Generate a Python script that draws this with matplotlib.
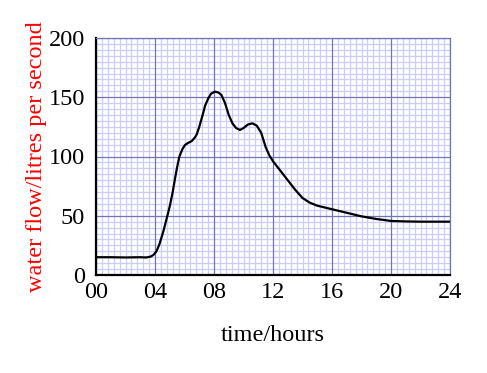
import matplotlib
matplotlib.use("Agg")
import matplotlib.pyplot as plt
from matplotlib.ticker import FixedLocator

hours = [0, 1, 2, 3, 3.4, 3.7, 3.9, 4.1, 4.3, 4.56, 4.8, 5.02, 5.2, 5.36, 5.5, 5.65,
         5.85, 6.03, 6.25, 6.49, 6.7, 6.83, 7.0, 7.23, 7.4, 7.61, 7.8, 8.05, 8.3, 8.5,
         8.75, 9.0, 9.25, 9.5, 9.76, 10.0, 10.3, 10.6, 10.9, 11.2, 11.5, 11.75, 12.0,
         12.5, 13.0, 13.5, 14.0, 14.5, 15.0, 15.5, 16.0, 17, 18, 19, 20, 21, 22, 23, 24]
flow = [15, 15, 14.8, 15, 14.8, 15.5, 17, 20, 26, 36.5, 48, 59, 70, 81.6, 91, 99.8,
        106, 109.7, 111.5, 113, 116, 118.7, 125, 135, 143, 149, 153, 154.7, 154, 152,
        145, 135, 128, 124, 122.4, 124, 127, 128, 126, 120, 108, 101, 96,
        88, 80, 72, 65, 61, 58.5, 57, 55.5, 52.5, 49.5, 47.3, 45.6, 45.2, 45, 45, 45]

xticks = [0, 4, 8, 12, 16, 20, 24]
xticklabels = ["00", "04", "08", "12", "16", "20", "24"]
yticks = [0, 50, 100, 150, 200]

plt.rcParams['font.family'] = 'Liberation Serif'
FS = 17.5

fig = plt.figure(figsize=(4.87, 3.73), dpi=100)
ax = fig.add_axes([96/487, 1-275/373, 354/487, 237/373])

major_c = (0.45, 0.45, 0.72)
minor_c = (0.80, 0.80, 1.0)

ax.set_xlim(0, 24)
ax.set_ylim(0, 200)
ax.set_xticks(xticks)
ax.set_xticklabels(xticklabels)
ax.set_yticks(yticks)
xminor = [i * 0.4 for i in range(61) if i % 10 != 0]
yminor = [i * 5 for i in range(41) if i % 10 != 0]
ax.xaxis.set_minor_locator(FixedLocator(xminor))
ax.yaxis.set_minor_locator(FixedLocator(yminor))
ax.grid(which='minor', color=minor_c, linewidth=0.9, linestyle='-')
ax.set_axisbelow(True)
for xv in xticks:
    ax.axvline(xv, color=major_c, linewidth=0.9, zorder=1)
for yv in yticks:
    ax.axhline(yv, color=major_c, linewidth=0.9, zorder=1)

ax.plot(hours, flow, color='black', linewidth=1.6, zorder=3)

ax.tick_params(which='both', length=0)
ax.tick_params(axis='y', pad=8, labelsize=FS)
ax.tick_params(axis='x', pad=5, labelsize=FS)

for s in ['top', 'right']:
    ax.spines[s].set_color(major_c)
    ax.spines[s].set_linewidth(0.9)
for s in ['left', 'bottom']:
    ax.spines[s].set_color('black')
    ax.spines[s].set_linewidth(1.6)

ax.set_xlabel("time/hours", fontsize=FS, labelpad=16)
ax.set_ylabel("water flow/litres per second", fontsize=FS, color='red', labelpad=1)

fig.savefig("out.png", dpi=100)
